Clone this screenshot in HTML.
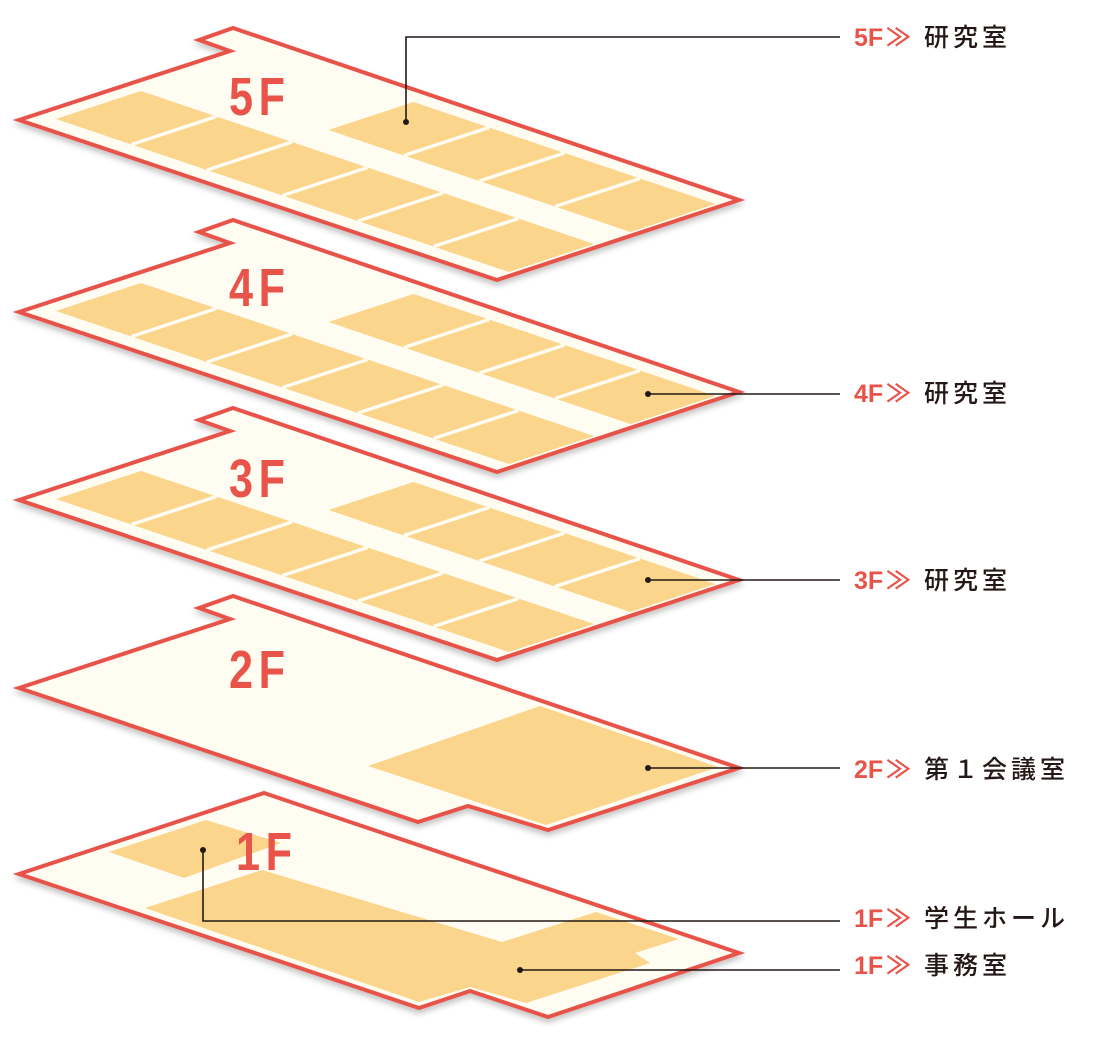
<!DOCTYPE html>
<html><head><meta charset="utf-8"><style>
html,body{margin:0;padding:0;background:#fff}
svg{display:block}
.fl{font-family:"Liberation Sans",sans-serif;font-weight:bold;fill:#e8534a;font-size:54px;letter-spacing:7px}
.lb{font-family:"Liberation Sans","Noto Sans CJK JP",sans-serif;font-size:25px;fill:#231815;letter-spacing:4px;font-weight:500}
.lf{font-family:"Liberation Sans",sans-serif;font-weight:bold;font-size:25px;fill:#e8534a}
.gg{font-family:"Noto Sans CJK JP",sans-serif;font-size:25px;fill:#e8534a;font-weight:bold}
</style></head><body>
<svg width="1099" height="1045" viewBox="0 0 1099 1045" xmlns="http://www.w3.org/2000/svg">
<defs>
<filter id="sh" x="-10%" y="-10%" width="120%" height="130%">
<feDropShadow dx="0" dy="4" stdDeviation="3" flood-color="#000" flood-opacity="0.22"/>
</filter>
<g id="lab">
<path d="M233,28 L739,200 L497,280 L19,120 L230,51 L199,40 Z" fill="#fffcf1" stroke="#e8534a" stroke-width="4" stroke-linejoin="miter" filter="url(#sh)"/>
<polygon points="56,119 141,91 594,244 509,272" fill="#fbd58b"/>
<polygon points="328.5,130 413.5,102 715.5,204 630.5,232" fill="#fbd58b"/>
<g stroke="#fffcf1" stroke-width="3.5">
<line x1="131.5" y1="144.5" x2="216.5" y2="116.5"/>
<line x1="207" y1="170" x2="292" y2="142"/>
<line x1="282.5" y1="195.5" x2="367.5" y2="167.5"/>
<line x1="358" y1="221" x2="443" y2="193"/>
<line x1="433.5" y1="246.5" x2="518.5" y2="218.5"/>
<line x1="404" y1="155.5" x2="489" y2="127.5"/>
<line x1="479.5" y1="181" x2="564.5" y2="153"/>
<line x1="555" y1="206.5" x2="640" y2="178.5"/>
</g>
</g>
</defs>

<!-- 1F -->
<path d="M264,793 L739,953 L548,1017 L470,991 L419,1008 L19,874 Z" fill="#fffcf1" stroke="#e8534a" stroke-width="4" filter="url(#sh)"/>
<polygon points="109,852 206,820 281,843 184,878" fill="#fbd58b"/>
<polygon points="145,908 262,870 502,942 596,912 679,939 635,953 650,963 526,1003 470,987 419,1002" fill="#fbd58b"/>
<text class="fl" transform="translate(236,870) scale(0.8,1)">1F</text>

<!-- 2F -->
<path d="M233,596 L739,768 L548,830 L468,806 L418,822 L19,688 L230,619 L199,608 Z" fill="#fffcf1" stroke="#e8534a" stroke-width="4" filter="url(#sh)"/>
<polygon points="368,766 540,706 718,767 546,825" fill="#fbd58b"/>
<text class="fl" transform="translate(229,688) scale(0.8,1)">2F</text>

<!-- 3F -->
<use href="#lab" transform="translate(0,380)"/>
<text class="fl" transform="translate(229,497) scale(0.8,1)">3F</text>
<!-- 4F -->
<use href="#lab" transform="translate(0,192)"/>
<text class="fl" transform="translate(229,306) scale(0.8,1)">4F</text>
<!-- 5F -->
<use href="#lab"/>
<text class="fl" transform="translate(229,115) scale(0.8,1)">5F</text>

<!-- leaders -->
<g stroke="#231815" stroke-width="1.6" fill="none">
<polyline points="406,122 406,37 840,37"/>
<line x1="648" y1="394" x2="840" y2="394"/>
<line x1="648" y1="580" x2="840" y2="580"/>
<line x1="648" y1="768" x2="840" y2="768"/>
<polyline points="203,850 203,921 840,921"/>
<line x1="520" y1="970" x2="840" y2="970"/>
</g>
<g fill="#231815">
<circle cx="406" cy="122" r="3"/><circle cx="648" cy="394" r="3"/><circle cx="648" cy="580" r="3"/>
<circle cx="648" cy="768" r="3"/><circle cx="203" cy="850" r="3"/><circle cx="520" cy="970" r="3"/>
</g>

<!-- labels -->
<g>
<text class="lf" x="854" y="46">5F</text><text class="gg" x="886" y="46">≫</text><text class="lb" x="924" y="46">研究室</text>
<text class="lf" x="854" y="402">4F</text><text class="gg" x="886" y="402">≫</text><text class="lb" x="924" y="402">研究室</text>
<text class="lf" x="854" y="589">3F</text><text class="gg" x="886" y="589">≫</text><text class="lb" x="924" y="589">研究室</text>
<text class="lf" x="854" y="778">2F</text><text class="gg" x="886" y="778">≫</text><text class="lb" x="924" y="778">第１会議室</text>
<text class="lf" x="854" y="927">1F</text><text class="gg" x="886" y="927">≫</text><text class="lb" x="924" y="927">学生ホール</text>
<text class="lf" x="854" y="974">1F</text><text class="gg" x="886" y="974">≫</text><text class="lb" x="924" y="974">事務室</text>
</g>
</svg>
</body></html>
